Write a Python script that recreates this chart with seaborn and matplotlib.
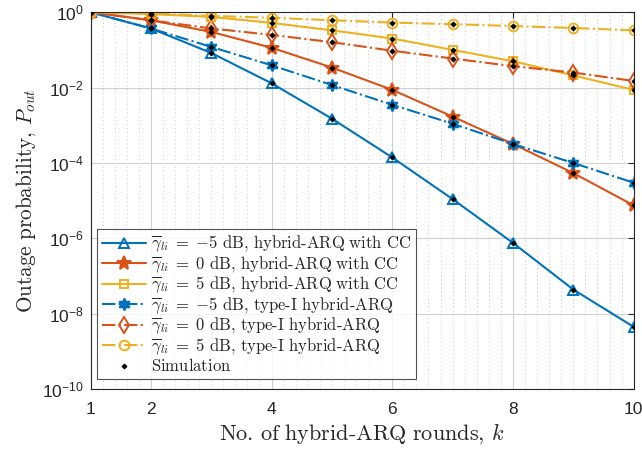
import numpy as np
import pandas as pd
import matplotlib
matplotlib.use("Agg")
import matplotlib.pyplot as plt
from matplotlib.ticker import FixedLocator, MultipleLocator, FuncFormatter
import seaborn as sns

# hybrid-ARQ rounds
k = [1, 2, 3, 4, 5, 6, 7, 8, 9, 10]

# outage probability, hybrid-ARQ with chase combining
cc_m5 = [1.0, 0.37, 0.083, 0.013, 1.5e-3, 1.4e-4, 1.1e-5, 7.6e-7, 4.4e-8, 4.5e-9]
cc_0 = [1.0, 0.61, 0.30, 0.114, 0.034, 8.7e-3, 1.7e-3, 3.2e-4, 5.4e-5, 7.5e-6]
cc_5 = [1.0, 0.89, 0.75, 0.52, 0.33, 0.20, 0.10, 0.050, 0.021, 8.7e-3]

# outage probability, type-I hybrid-ARQ
t1_m5 = [1.0, 0.37, 0.12, 0.039, 0.0117, 3.5e-3, 1.1e-3, 3.2e-4, 1.0e-4, 3.0e-5]
t1_0 = [1.0, 0.61, 0.37, 0.25, 0.16, 0.095, 0.059, 0.037, 0.025, 0.015]
t1_5 = [1.0, 0.92, 0.80, 0.71, 0.61, 0.53, 0.48, 0.43, 0.38, 0.33]

labels = [
    r"$\overline{\gamma}_{li}\;=\;{-5}\ \mathrm{dB,\!\ hybrid\text{-}ARQ\ with\ CC}$",
    r"$\overline{\gamma}_{li}\;=\;0\ \mathrm{dB,\!\ hybrid\text{-}ARQ\ with\ CC}$",
    r"$\overline{\gamma}_{li}\;=\;5\ \mathrm{dB,\!\ hybrid\text{-}ARQ\ with\ CC}$",
    r"$\overline{\gamma}_{li}\;=\;{-5}\ \mathrm{dB,\!\ type\text{-}I\ hybrid\text{-}ARQ}$",
    r"$\overline{\gamma}_{li}\;=\;0\ \mathrm{dB,\!\ type\text{-}I\ hybrid\text{-}ARQ}$",
    r"$\overline{\gamma}_{li}\;=\;5\ \mathrm{dB,\!\ type\text{-}I\ hybrid\text{-}ARQ}$",
]
sim_label = r"$\mathrm{Simulation}$"

sns.set_theme(style="white")
plt.rcParams["font.family"] = ["Liberation Sans", "DejaVu Sans"]
plt.rcParams["mathtext.fontset"] = "cm"

blue, orange, yellow = "#0072BD", "#D95319", "#EDB120"
series = [cc_m5, cc_0, cc_5, t1_m5, t1_0, t1_5]
colors = [blue, orange, yellow, blue, orange, yellow]
styles = ["-", "-", "-", "-.", "-.", "-."]
markers = ["^", "*", "s", (6, 1, 0), "d", "o"]
msizes = [7, 10, 6, 8.5, 8, 7]
filled = [False, True, False, True, False, False]

fig = plt.figure(figsize=(6.42, 4.51), dpi=100)
ax = fig.add_axes([0.141, 0.137, 0.846, 0.836])

for y, c, ls, m, ms, f, lab in zip(series, colors, styles, markers, msizes, filled, labels):
    df = pd.DataFrame({"k": k, "p": y})
    sns.lineplot(data=df, x="k", y="p", ax=ax, color=c, linestyle=ls, lw=1.5,
                 marker=m, markersize=ms, markeredgewidth=1.4,
                 markerfacecolor=c if f else "none", markeredgecolor=c,
                 label=lab, errorbar=None)

# simulation points
for i, y in enumerate(series):
    sns.scatterplot(x=k, y=y, ax=ax, marker="D", s=7, color="black",
                    edgecolor="black", linewidth=0.5, zorder=5,
                    label=sim_label if i == 0 else None)

ax.set_yscale("log")
ax.set_xlim(1, 10)
ax.set_ylim(1e-10, 1)

ax.xaxis.set_major_locator(FixedLocator([1, 2, 4, 6, 8, 10]))
ax.xaxis.set_minor_locator(MultipleLocator(0.2))
ax.yaxis.set_major_locator(FixedLocator([10.0 ** e for e in range(-10, 1, 2)]))
ax.yaxis.set_minor_locator(FixedLocator([]))
ax.yaxis.set_major_formatter(FuncFormatter(
    lambda v, p: r"$\mathregular{10^{%d}}$" % int(round(np.log10(v)))))
ax.xaxis.set_major_formatter(FuncFormatter(lambda v, p: "%d" % v))

ax.grid(which="major", color="#d0d0d0", lw=0.8, ls="-")
ax.grid(which="minor", axis="x", color="#c8c8c8", lw=0.7, ls=(0, (1, 3)))
ax.set_axisbelow(True)

for s in ax.spines.values():
    s.set_color("#262626")
    s.set_linewidth(0.8)
ax.tick_params(which="major", direction="in", length=4, width=0.8, top=True,
               right=True, labelsize=12.5, colors="#262626", pad=5)
ax.tick_params(axis="x", which="major", pad=9)
ax.tick_params(which="minor", length=0)

ax.set_xlabel(r"$\mathrm{No.\!\ of\ hybrid\text{-}ARQ\ rounds,\!\ }k$", fontsize=16,
              color="#262626", labelpad=3)
ax.set_ylabel(r"$\mathrm{Outage\ probability,\!\ }P_{out}$", fontsize=15.3,
              color="#262626", labelpad=3)

leg = ax.legend(loc="lower left", bbox_to_anchor=(0.0, 0.01), fontsize=12.0,
                frameon=True, fancybox=False, edgecolor="#262626",
                handlelength=2.6, handletextpad=0.3, labelspacing=0.0,
                borderpad=0.3, borderaxespad=0.4)
leg.get_frame().set_linewidth(0.8)

fig.savefig("out.png", dpi=100)
